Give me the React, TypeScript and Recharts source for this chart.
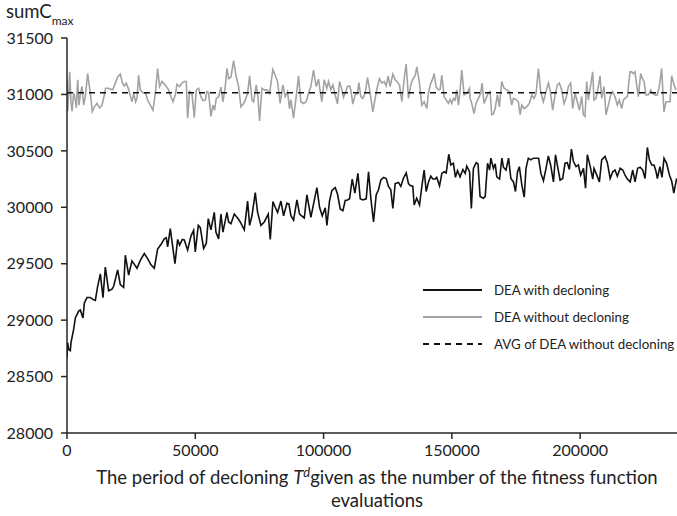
import React from "react";
import { LineChart, Line, XAxis, YAxis } from "recharts";

// x = number of fitness function evaluations, y = sumCmax
const blackX = [
  0, 260, 650, 1300, 1560, 2600, 3250, 4550, 5190, 6230, 6750, 7790, 9090, 10390, 11040, 11950, 12990, 14030, 14940, 16230,
  17530, 18180, 19740, 20780, 22080, 22730, 24030, 25320, 27270, 28570, 30130, 31430, 32730, 34030, 35320, 36750, 37920, 38700, 39220, 40260,
  42080, 43120, 43900, 44940, 45710, 47010, 48310, 49350, 50000, 51170, 51950, 53250, 54290, 55060, 56100, 57400, 58050, 59090, 60000, 60780,
  62340, 62990, 63900, 65190, 66490, 67530, 69090, 70390, 71170, 72080, 73380, 74290, 75580, 76880, 78440, 79220, 80260, 81170, 82080, 83380,
  84420, 85710, 86490, 87270, 88310, 89610, 90650, 91690, 92470, 93510, 95060, 96100, 97400, 98440, 99480, 100650, 101300, 102340, 103250, 104550,
  105450, 106490, 107530, 108440, 109350, 110130, 111170, 112210, 113380, 114290, 115320, 116620, 117530, 118440, 119480, 120500, 121400, 122300, 123400, 124400,
  125300, 126200, 127000, 127900, 129200, 130100, 131100, 132200, 133100, 133700, 134800, 135300, 136300, 137400, 138300, 139200, 140000, 140900, 141800, 142600,
  143500, 144100, 145200, 146100, 147000, 147800, 148800, 149600, 150600, 151400, 152200, 153200, 154300, 155200, 155800, 156900, 157600, 158400, 159500, 160200,
  161000, 162300, 163000, 163900, 164700, 165200, 166200, 166900, 167500, 168600, 169500, 170100, 171100, 172100, 173000, 174000, 174800, 175600, 176300, 177300,
  178200, 178900, 179800, 180800, 181800, 182800, 183800, 184700, 185700, 186700, 187600, 188500, 189600, 190400, 191100, 192200, 193200, 194100, 195000, 195800,
  196600, 197400, 198400, 199300, 200200, 201300, 202100, 202800, 203900, 204900, 205400, 206500, 207500, 208400, 209700, 210600, 211700, 212700, 213600, 214500,
  215600, 216600, 217500, 218400, 219500, 220500, 221400, 222400, 223400, 224400, 225300, 226200, 227000, 227900, 228800, 229600, 230100, 231100, 231900, 232700,
  233700, 234800, 235700, 236500, 237600,
];
const blackY = [
  28670, 28800, 28740, 28730, 28800, 28920, 29020, 29080, 29090, 29020, 29150, 29200, 29200, 29180, 29175, 29300, 29410, 29200, 29470, 29260,
  29275, 29300, 29445, 29315, 29290, 29575, 29400, 29525, 29460, 29530, 29590, 29545, 29490, 29460, 29630, 29675, 29720, 29730, 29650, 29810,
  29500, 29715, 29665, 29715, 29710, 29620, 29745, 29795, 29605, 29840, 29820, 29635, 29680, 29900, 29800, 29955, 29780, 29720, 29940, 29780,
  29955, 29870, 29855, 29940, 29905, 29870, 29800, 30055, 29840, 29925, 30130, 29955, 29840, 29870, 29940, 29715, 30050, 30000, 29955, 30055,
  29925, 30035, 30030, 29925, 29885, 30065, 29940, 29920, 29905, 30110, 29910, 30030, 30175, 30000, 29925, 29995, 29840, 30060, 30150, 30175,
  30115, 29985, 29970, 30060, 30065, 30075, 30250, 30125, 30300, 30075, 30065, 30075, 30315, 30075, 29870, 30110, 30155, 30240, 30265, 30255,
  30185, 30155, 29990, 30210, 30220, 30185, 30255, 30305, 30210, 30195, 30185, 30020, 30080, 30020, 30185, 30330, 30140, 30225, 30275, 30250,
  30250, 30265, 30190, 30300, 30315, 30305, 30470, 30375, 30390, 30265, 30325, 30270, 30335, 30300, 30365, 30315, 29990, 30345, 30395, 30385,
  30095, 30080, 30095, 30390, 30330, 30435, 30345, 30385, 30270, 30250, 30435, 30355, 30330, 30435, 30255, 30225, 30140, 30315, 30360, 30195,
  30090, 30345, 30435, 30420, 30435, 30435, 30435, 30300, 30235, 30345, 30455, 30375, 30225, 30465, 30375, 30240, 30255, 30390, 30395, 30335,
  30515, 30405, 30360, 30375, 30285, 30345, 30170, 30465, 30365, 30250, 30345, 30285, 30225, 30420, 30450, 30395, 30255, 30315, 30330, 30275,
  30345, 30330, 30285, 30250, 30225, 30330, 30225, 30345, 30355, 30330, 30255, 30530, 30420, 30375, 30375, 30315, 30255, 30360, 30265, 30435,
  30390, 30285, 30230, 30125, 30255,
];

const grayX = [
  0, 260, 650, 1040, 1560, 1950, 2600, 3250, 3640, 4160, 4680, 5190, 5840, 6490, 7140, 8050, 9090, 9870, 10650, 11690,
  12730, 13640, 14550, 15060, 16230, 17140, 17920, 18830, 19740, 20780, 21560, 22340, 23120, 24030, 24680, 25320, 25970, 26750, 27270, 27920,
  28570, 29610, 30650, 31430, 32470, 33510, 34420, 35320, 36100, 37010, 37660, 38700, 39610, 40520, 41300, 42210, 42860, 43900, 44810, 45710,
  46490, 47010, 47790, 48700, 49610, 50390, 51300, 52210, 52990, 53900, 54550, 55190, 56100, 56880, 57530, 58180, 59090, 60000, 60780, 61690,
  62340, 62990, 63900, 64940, 65840, 66880, 67790, 68830, 69480, 70390, 71170, 72080, 72730, 73770, 74420, 75060, 75970, 76880, 77920, 78960,
  80230, 81140, 82050, 83090, 84130, 85040, 85950, 86730, 87250, 88290, 89330, 90240, 91140, 92180, 93220, 94130, 95040, 96080, 97120, 98030,
  98680, 99330, 100240, 101270, 101920, 102830, 103610, 104520, 105430, 106210, 107120, 107770, 108420, 109330, 110100, 110620, 111400, 112310, 113220, 113740,
  114520, 115300, 116210, 117120, 118160, 119200, 120100, 121010, 121790, 122700, 123610, 124390, 125170, 125950, 126990, 127900, 128550, 129590, 130500, 131400,
  132180, 133090, 134000, 134780, 135690, 136340, 137380, 138290, 139200, 140240, 140880, 141790, 142570, 143090, 143870, 144780, 145430, 146080, 146990, 147770,
  148680, 149330, 149980, 150620, 151270, 151920, 152570, 153220, 153870, 154780, 155820, 156860, 157100, 157750, 158650, 159430, 160340, 161250, 161770, 162550,
  163330, 164240, 164890, 165540, 166190, 166840, 167750, 168520, 169430, 170340, 171380, 172420, 173330, 173980, 175020, 175930, 176580, 177230, 178140, 179170,
  180210, 181120, 182030, 182810, 183720, 184630, 185670, 186710, 187620, 188260, 189300, 190210, 191120, 191900, 192810, 193720, 194500, 195410, 196320, 197100,
  198010, 198910, 199690, 200600, 201250, 201900, 202550, 203200, 204110, 204890, 205410, 206190, 207100, 207750, 208390, 209300, 210080, 210990, 211900, 212680,
  213590, 214500, 215280, 216190, 216840, 217490, 218400, 219430, 220080, 220730, 221380, 222030, 222680, 223590, 224370, 224890, 225670, 226580, 227490, 228270,
  229170, 230080, 230860, 231770, 232680, 233460, 234370, 235020, 235670, 236580, 237360,
];
const grayY = [
  31130, 30850, 30995, 31200, 30935, 30850, 31010, 30950, 30880, 31130, 30905, 30995, 31070, 30905, 30980, 31185, 31010, 30850, 30890, 30920,
  30880, 30905, 30995, 31055, 31055, 31045, 31045, 31100, 31155, 31180, 31105, 31075, 31100, 31045, 30985, 30935, 31010, 30935, 30965, 31170,
  31040, 31015, 31010, 30950, 30905, 30860, 31010, 31230, 31070, 31115, 31100, 31070, 31040, 30980, 30935, 30995, 31090, 31070, 31100, 31115,
  31115, 30790, 31025, 31010, 30795, 31040, 31055, 30980, 30945, 30950, 31025, 31015, 30805, 30905, 30860, 30965, 30980, 31065, 30935, 31070,
  31230, 31140, 31155, 31300, 31170, 31070, 30890, 30920, 30950, 31010, 31165, 30950, 30935, 31085, 30980, 30765, 31055, 31040, 31040, 31010,
  31220, 31170, 31115, 30920, 31085, 30980, 31025, 30875, 30955, 30790, 30980, 31165, 30935, 30920, 30935, 31010, 31070, 31215, 31070, 31135,
  31025, 30935, 31130, 31055, 31115, 31040, 31085, 30995, 30915, 31115, 31045, 30975, 31010, 31070, 31075, 31040, 30915, 30995, 31010, 31105,
  30980, 30965, 31010, 31150, 31010, 30845, 30965, 31070, 31140, 31100, 31115, 31075, 31165, 31070, 31180, 31130, 31115, 31085, 30935, 31135,
  31270, 30965, 31085, 31135, 31165, 31245, 31100, 30905, 30935, 30875, 31015, 31100, 31140, 31185, 31065, 31040, 31045, 31170, 30980, 30950,
  30920, 30955, 30920, 30965, 30950, 31040, 30905, 31040, 31215, 30995, 31010, 31055, 30965, 30920, 30830, 30920, 30965, 31010, 31100, 30920,
  30965, 31015, 31025, 30820, 30825, 30875, 30995, 30890, 31115, 31055, 31040, 31025, 30905, 30965, 30955, 30935, 30820, 30905, 30875, 30890,
  30920, 30995, 30965, 31005, 31230, 31025, 30935, 31025, 31100, 31045, 30860, 30995, 31085, 31100, 31040, 30920, 30965, 31070, 31100, 30875,
  31010, 30935, 30860, 30980, 30820, 30805, 31115, 30950, 31085, 31200, 30950, 30965, 31070, 31165, 30965, 31070, 30820, 30905, 30995, 31025,
  30980, 30905, 30950, 30875, 30950, 30965, 30980, 31200, 31200, 31185, 31200, 31085, 30980, 31185, 31135, 31115, 30995, 30995, 31040, 31010,
  30995, 30995, 31070, 31230, 30845, 30935, 30935, 30935, 31165, 31085, 31040,
];

const avgX = [0, 237750];
const avgY = [31015, 31015];

const xTicks = [0, 50000, 100000, 150000, 200000];
const yTicks = [28000, 28500, 29000, 29500, 30000, 30500, 31000, 31500];
const legendLabels = ["DEA with decloning", "DEA without decloning", "AVG of DEA without decloning"];

const blackData = blackX.map((x, i) => ({ x, y: blackY[i] }));
const grayData = grayX.map((x, i) => ({ x, y: grayY[i] }));
const avgData = avgX.map((x, i) => ({ x, y: avgY[i] }));

const FONT = "Lato, 'Open Sans', sans-serif";
const AXIS = "#262626";

const legendStyles = [
  { stroke: "#111", dash: undefined as string | undefined },
  { stroke: "#a3a3a3", dash: undefined as string | undefined },
  { stroke: "#111", dash: "6 5" },
];

export default function App() {
  return (
    <div style={{ position: "absolute", left: 0, top: 0, width: 677, height: 516, background: "#fff", fontFamily: FONT, overflow: "hidden" }}>
      <LineChart width={677} height={516} margin={{ top: 38, right: 0, bottom: 53, left: 0 }}>
        <XAxis
          type="number"
          dataKey="x"
          domain={[0, 237750]}
          allowDataOverflow
          ticks={xTicks}
          tickSize={6}
          tickMargin={6}
          height={30}
          stroke={AXIS}
          strokeWidth={1.5}
          tick={{ fill: "#222", fontSize: 16, fontFamily: FONT }}
          label={{
            content: () => (
              <g>
                <text x={377} y={484} textAnchor="middle" fontSize={18.5} fontFamily={FONT} fill="#222">
                  The period of decloning <tspan fontStyle="italic">T</tspan>
                  <tspan fontStyle="italic" fontSize={13} dy={-7}>d</tspan>
                  <tspan dy={7}>given as the number of the fitness function</tspan>
                </text>
                <text x={377} y={507} textAnchor="middle" fontSize={18.5} fontFamily={FONT} fill="#222">
                  evaluations
                </text>
              </g>
            ),
          }}
        />
        <YAxis
          type="number"
          domain={[28000, 31500]}
          allowDataOverflow
          ticks={yTicks}
          tickSize={6}
          tickMargin={8}
          width={67}
          stroke={AXIS}
          strokeWidth={1.5}
          tick={{ fill: "#222", fontSize: 16, fontFamily: FONT }}
          label={{
            content: () => (
              <text x={6} y={18} fontSize={18.5} fontFamily={FONT} fill="#222">
                sumC
                <tspan fontSize={12} dy={7}>max</tspan>
              </text>
            ),
          }}
        />
        <Line
          data={blackData}
          dataKey="y"
          type="linear"
          stroke="#111"
          strokeWidth={1.6}
          dot={false}
          activeDot={false}
          isAnimationActive={false}
        />
        <Line
          data={grayData}
          dataKey="y"
          type="linear"
          stroke="#a3a3a3"
          strokeWidth={1.6}
          dot={false}
          activeDot={false}
          isAnimationActive={false}
        />
        <Line
          data={avgData}
          dataKey="y"
          type="linear"
          stroke="#111"
          strokeWidth={1.4}
          strokeDasharray="6 5"
          dot={false}
          activeDot={false}
          isAnimationActive={false}
        />
      </LineChart>
      <svg style={{ position: "absolute", left: 420, top: 278 }} width={257} height={80}>
        {legendLabels.map((label, i) => (
          <g key={label}>
            <line
              x1={3}
              x2={62}
              y1={12 + i * 27}
              y2={12 + i * 27}
              stroke={legendStyles[i].stroke}
              strokeWidth={1.8}
              strokeDasharray={legendStyles[i].dash}
            />
            <text x={74} y={12 + i * 27} dy="0.35em" fontSize={13.3} fontFamily={FONT} fill="#222">
              {label}
            </text>
          </g>
        ))}
      </svg>
    </div>
  );
}
